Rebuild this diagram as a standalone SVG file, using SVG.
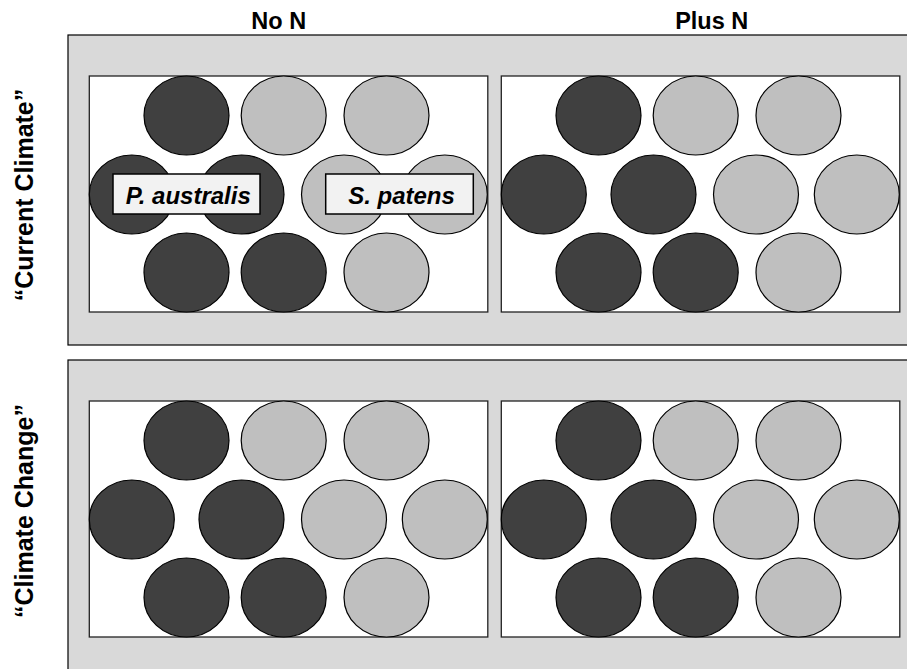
<svg xmlns="http://www.w3.org/2000/svg" width="907" height="669" viewBox="0 0 907 669">
<style>
.panel{fill:#d9d9d9;stroke:#000;stroke-width:1.2}
.box{fill:#fff;stroke:#222;stroke-width:1.3}
.pa{fill:#404040;stroke:#000;stroke-width:1.2}
.sp{fill:#bfbfbf;stroke:#000;stroke-width:1.2}
.lab{fill:#f2f2f2;stroke:#000;stroke-width:1.5}
.t{font-family:"Liberation Sans",Arial,sans-serif;font-weight:bold;font-size:23.5px;fill:#000}
.ti{font-style:italic;font-size:24px}
.tr{font-size:25px}
</style>
<g id="header-noN"><text class="t" x="278.7" y="29.3" text-anchor="middle">No N</text></g>
<g id="header-plusN"><text class="t" x="711.7" y="29.3" text-anchor="middle">Plus N</text></g>
<g id="row-current"><text class="t tr" transform="translate(33,195) rotate(-90)" text-anchor="middle">“Current Climate”</text></g>
<g id="row-change"><text class="t tr" transform="translate(33,511) rotate(-90)" text-anchor="middle">“Climate Change”</text></g>

<g id="panel-current"><rect class="panel" x="68" y="35" width="850" height="310"/></g>
<g id="panel-change"><rect class="panel" x="68" y="360" width="850" height="330"/></g>

<g id="plot-current-noN" transform="translate(89.3,76)">
<rect class="box" x="0" y="0" width="398.5" height="236"/>
<ellipse class="pa" cx="97.2" cy="39.5" rx="42.5" ry="39.5"/>
<ellipse class="sp" cx="194.4" cy="39.5" rx="42.5" ry="39.5"/>
<ellipse class="sp" cx="297.2" cy="39.5" rx="42.5" ry="39.5"/>
<ellipse class="pa" cx="42.5" cy="118.5" rx="42.5" ry="39.5"/>
<ellipse class="pa" cx="152.2" cy="118.5" rx="42.5" ry="39.5"/>
<ellipse class="sp" cx="254.7" cy="118.5" rx="42.5" ry="39.5"/>
<ellipse class="sp" cx="355.5" cy="118.5" rx="42.5" ry="39.5"/>
<ellipse class="pa" cx="97.2" cy="196.5" rx="42.5" ry="39.5"/>
<ellipse class="pa" cx="194.4" cy="196.5" rx="42.5" ry="39.5"/>
<ellipse class="sp" cx="297.2" cy="196.5" rx="42.5" ry="39.5"/>
</g>
<g id="label-paustralis">
<rect class="lab" x="113" y="174" width="147" height="40"/>
<text class="t ti" x="188.3" y="204" text-anchor="middle">P. australis</text>
</g>
<g id="label-spatens">
<rect class="lab" x="325.7" y="174" width="147.6" height="40"/>
<text class="t ti" x="401.5" y="204" text-anchor="middle">S. patens</text>
</g>

<g id="plot-current-plusN" transform="translate(501.3,76)">
<rect class="box" x="0" y="0" width="398.5" height="236"/>
<ellipse class="pa" cx="97.2" cy="39.5" rx="42.5" ry="39.5"/>
<ellipse class="sp" cx="194.4" cy="39.5" rx="42.5" ry="39.5"/>
<ellipse class="sp" cx="297.2" cy="39.5" rx="42.5" ry="39.5"/>
<ellipse class="pa" cx="42.5" cy="118.5" rx="42.5" ry="39.5"/>
<ellipse class="pa" cx="152.2" cy="118.5" rx="42.5" ry="39.5"/>
<ellipse class="sp" cx="254.7" cy="118.5" rx="42.5" ry="39.5"/>
<ellipse class="sp" cx="355.5" cy="118.5" rx="42.5" ry="39.5"/>
<ellipse class="pa" cx="97.2" cy="196.5" rx="42.5" ry="39.5"/>
<ellipse class="pa" cx="194.4" cy="196.5" rx="42.5" ry="39.5"/>
<ellipse class="sp" cx="297.2" cy="196.5" rx="42.5" ry="39.5"/>
</g>

<g id="plot-change-noN" transform="translate(89.3,401)">
<rect class="box" x="0" y="0" width="398.5" height="236"/>
<ellipse class="pa" cx="97.2" cy="39.5" rx="42.5" ry="39.5"/>
<ellipse class="sp" cx="194.4" cy="39.5" rx="42.5" ry="39.5"/>
<ellipse class="sp" cx="297.2" cy="39.5" rx="42.5" ry="39.5"/>
<ellipse class="pa" cx="42.5" cy="118.5" rx="42.5" ry="39.5"/>
<ellipse class="pa" cx="152.2" cy="118.5" rx="42.5" ry="39.5"/>
<ellipse class="sp" cx="254.7" cy="118.5" rx="42.5" ry="39.5"/>
<ellipse class="sp" cx="355.5" cy="118.5" rx="42.5" ry="39.5"/>
<ellipse class="pa" cx="97.2" cy="196.5" rx="42.5" ry="39.5"/>
<ellipse class="pa" cx="194.4" cy="196.5" rx="42.5" ry="39.5"/>
<ellipse class="sp" cx="297.2" cy="196.5" rx="42.5" ry="39.5"/>
</g>

<g id="plot-change-plusN" transform="translate(501.3,401)">
<rect class="box" x="0" y="0" width="398.5" height="236"/>
<ellipse class="pa" cx="97.2" cy="39.5" rx="42.5" ry="39.5"/>
<ellipse class="sp" cx="194.4" cy="39.5" rx="42.5" ry="39.5"/>
<ellipse class="sp" cx="297.2" cy="39.5" rx="42.5" ry="39.5"/>
<ellipse class="pa" cx="42.5" cy="118.5" rx="42.5" ry="39.5"/>
<ellipse class="pa" cx="152.2" cy="118.5" rx="42.5" ry="39.5"/>
<ellipse class="sp" cx="254.7" cy="118.5" rx="42.5" ry="39.5"/>
<ellipse class="sp" cx="355.5" cy="118.5" rx="42.5" ry="39.5"/>
<ellipse class="pa" cx="97.2" cy="196.5" rx="42.5" ry="39.5"/>
<ellipse class="pa" cx="194.4" cy="196.5" rx="42.5" ry="39.5"/>
<ellipse class="sp" cx="297.2" cy="196.5" rx="42.5" ry="39.5"/>
</g>
</svg>
